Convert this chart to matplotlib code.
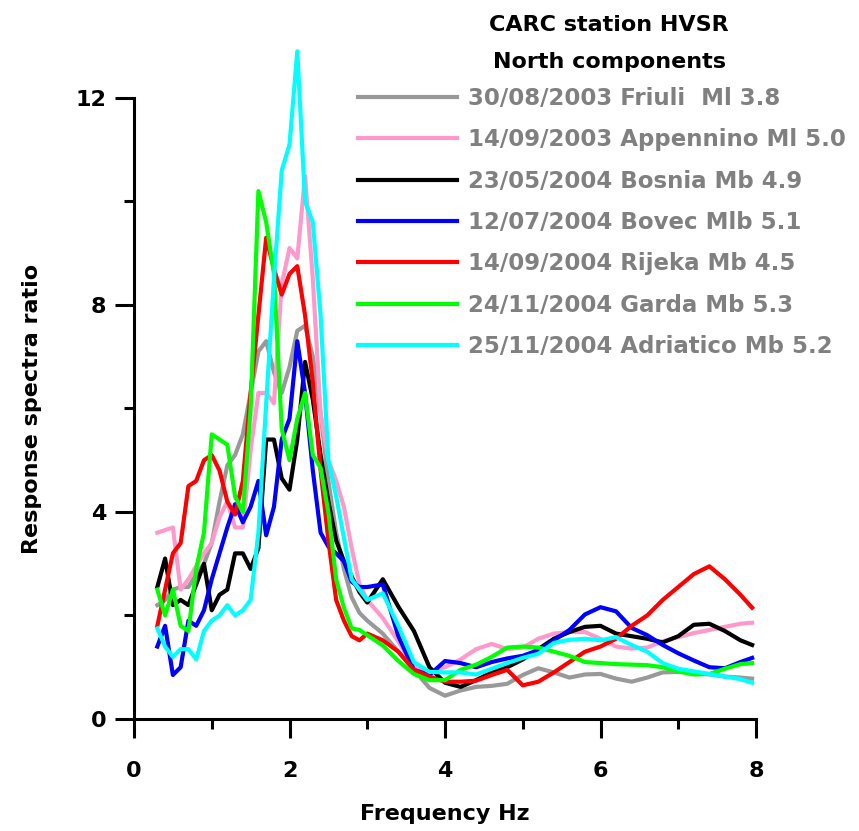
import matplotlib
matplotlib.use('Agg')
import matplotlib.pyplot as plt
from matplotlib.ticker import MultipleLocator

# frequency grid (Hz)
freq = [0.3, 0.4, 0.5, 0.6, 0.7, 0.8, 0.9, 1.0, 1.1, 1.2, 1.3, 1.4, 1.5, 1.6,
        1.7, 1.8, 1.9, 2.0, 2.1, 2.2, 2.3, 2.4, 2.5, 2.6, 2.7, 2.8, 2.9, 3.0,
        3.2, 3.4, 3.6, 3.8, 4.0, 4.2, 4.4, 4.6, 4.8, 5.0, 5.2, 5.4, 5.6, 5.8,
        6.0, 6.2, 6.4, 6.6, 6.8, 7.0, 7.2, 7.4, 7.6, 7.8, 7.95]

friuli = [2.2, 2.3, 2.5, 2.55, 2.55, 2.8, 3.0, 3.4, 4.2, 4.9, 5.1, 5.5, 6.3, 7.1,
          7.3, 6.7, 6.3, 6.8, 7.5, 7.6, 7.0, 5.9, 4.6, 3.6, 2.9, 2.35, 2.05, 1.9,
          1.65, 1.3, 0.95, 0.6, 0.45, 0.55, 0.62, 0.64, 0.68, 0.85, 0.98, 0.9, 0.8, 0.86,
          0.87, 0.78, 0.72, 0.8, 0.9, 0.91, 0.9, 0.86, 0.82, 0.8, 0.78]
appennino = [3.6, 3.65, 3.7, 2.5, 2.7, 2.95, 3.2, 3.4, 3.9, 4.2, 3.7, 3.7, 5.2, 6.3,
             6.3, 6.1, 8.4, 9.1, 8.9, 10.5, 8.5, 5.9, 5.0, 4.6, 4.1, 3.3, 2.6, 2.3,
             1.95, 1.5, 1.0, 0.9, 1.0, 1.15, 1.35, 1.45, 1.35, 1.38, 1.55, 1.65, 1.68, 1.68,
             1.55, 1.4, 1.36, 1.38, 1.5, 1.58, 1.66, 1.72, 1.78, 1.84, 1.86]
bosnia = [2.55, 3.1, 2.2, 2.3, 2.2, 2.6, 3.0, 2.1, 2.4, 2.5, 3.2, 3.2, 2.9, 3.3,
          5.4, 5.4, 4.65, 4.43, 5.4, 6.9, 6.17, 5.1, 4.2, 3.45, 3.05, 2.75, 2.45, 2.25,
          2.7, 2.17, 1.7, 1.0, 0.7, 0.62, 0.75, 0.9, 1.0, 1.15, 1.35, 1.55, 1.68, 1.78,
          1.8, 1.65, 1.6, 1.55, 1.48, 1.6, 1.82, 1.84, 1.7, 1.52, 1.43]
bovec = [1.4, 1.8, 0.85, 1.0, 1.9, 1.8, 2.1, 2.7, 3.2, 3.7, 4.15, 3.8, 4.1, 4.6,
         3.55, 4.1, 5.4, 5.8, 7.3, 6.3, 4.8, 3.6, 3.33, 3.2, 3.05, 2.65, 2.55, 2.55,
         2.6, 1.6, 0.95, 0.85, 1.12, 1.08, 1.0, 1.1, 1.17, 1.22, 1.33, 1.52, 1.72, 2.02,
         2.16, 2.08, 1.76, 1.62, 1.43, 1.27, 1.13, 1.0, 0.98, 1.1, 1.18]
rijeka = [1.8, 2.5, 3.2, 3.4, 4.5, 4.6, 5.0, 5.1, 4.8, 4.2, 3.95, 4.6, 6.3, 7.8,
          9.3, 8.7, 8.2, 8.6, 8.75, 7.8, 6.5, 4.8, 3.45, 2.3, 1.9, 1.6, 1.52, 1.65,
          1.52, 1.3, 0.95, 0.82, 0.72, 0.72, 0.74, 0.85, 0.95, 0.65, 0.72, 0.9, 1.1, 1.3,
          1.4, 1.55, 1.8, 2.0, 2.3, 2.55, 2.8, 2.95, 2.7, 2.4, 2.15]
garda = [2.5, 2.0, 2.5, 1.8, 1.7, 2.9, 3.6, 5.5, 5.4, 5.3, 4.3, 4.0, 6.0, 10.2,
         9.6, 8.6, 5.6, 5.0, 5.8, 6.3, 5.1, 4.85, 4.0, 2.7, 2.15, 1.75, 1.72, 1.62,
         1.42, 1.12, 0.87, 0.75, 0.75, 0.95, 1.05, 1.2, 1.38, 1.4, 1.38, 1.3, 1.22, 1.1,
         1.08, 1.06, 1.05, 1.04, 1.0, 0.92, 0.86, 0.87, 0.97, 1.06, 1.08]
adriatico = [1.75, 1.4, 1.2, 1.35, 1.35, 1.15, 1.7, 1.9, 2.0, 2.2, 2.0, 2.1, 2.3, 3.6,
             6.1, 8.5, 10.6, 11.1, 12.9, 10.0, 9.6, 7.8, 5.0, 4.3, 3.5, 2.7, 2.5, 2.3,
             2.43, 1.8, 1.1, 0.91, 0.9, 0.9, 0.86, 0.97, 1.08, 1.18, 1.26, 1.47, 1.53, 1.55,
             1.52, 1.58, 1.43, 1.3, 1.08, 0.97, 0.92, 0.87, 0.82, 0.77, 0.7]

series = [friuli, appennino, bosnia, bovec, rijeka, garda, adriatico]
labels = ['30/08/2003 Friuli  Ml 3.8',
          '14/09/2003 Appennino Ml 5.0',
          '23/05/2004 Bosnia Mb 4.9',
          '12/07/2004 Bovec Mlb 5.1',
          '14/09/2004 Rijeka Mb 4.5',
          '24/11/2004 Garda Mb 5.3',
          '25/11/2004 Adriatico Mb 5.2']
colors = ['#999999', '#ff99cc', '#000000', '#0000ff', '#ff0000', '#00ff00', '#00ffff']

plt.rcParams['font.family'] = 'DejaVu Sans'
plt.rcParams['font.weight'] = 'bold'

fig = plt.figure(figsize=(8.59, 8.31), dpi=100)
ax = fig.add_axes([0.156, 0.1348, 0.7241, 0.8345])

for vals, color, label in zip(series, colors, labels):
    ax.plot(freq, vals, color=color, linewidth=3, label=label,
            solid_joinstyle='round', clip_on=False)

ax.set_xlim(0, 8)
ax.set_ylim(0, 13.4)
ax.xaxis.set_major_locator(MultipleLocator(2))
ax.xaxis.set_minor_locator(MultipleLocator(1))
ax.yaxis.set_major_locator(MultipleLocator(4))
ax.yaxis.set_minor_locator(MultipleLocator(2))

for side in ['top', 'right']:
    ax.spines[side].set_visible(False)
ax.spines['left'].set_bounds(0, 12)
ax.spines['bottom'].set_bounds(0, 8)
for side in ['left', 'bottom']:
    ax.spines[side].set_linewidth(2.2)

ax.tick_params(which='major', direction='out', length=14, width=2.2,
               labelsize=16)
ax.tick_params(which='minor', direction='out', length=7, width=2.2)
ax.tick_params(axis='x', which='major', pad=16)
ax.tick_params(axis='y', which='major', pad=6)

ax.set_xlabel('Frequency Hz', fontsize=16, fontweight='bold')
ax.set_ylabel('Response spectra ratio', fontsize=16, fontweight='bold')
ax.xaxis.set_label_coords(0.5, -0.122)
ax.yaxis.set_label_coords(-0.148, 6 / 13.4)

# legend title, two centred lines
fig.text(0.709, 1 - 25 / 831, 'CARC station HVSR', ha='center', va='center',
         fontsize=16, fontweight='bold', color='black')
fig.text(0.709, 1 - 62 / 831, 'North components', ha='center', va='center',
         fontsize=16, fontweight='bold', color='black')

leg = ax.legend(loc='upper left', bbox_to_anchor=(0.4168, 1 - 87 / 831),
                bbox_transform=fig.transFigure, frameon=False,
                fontsize=16.5, labelcolor='#808080', handlelength=4.3,
                handletextpad=0.48, labelspacing=0.8, borderpad=0,
                borderaxespad=0)
for line in leg.get_lines():
    line.set_linewidth(3)

fig.savefig('out.png', dpi=100)
